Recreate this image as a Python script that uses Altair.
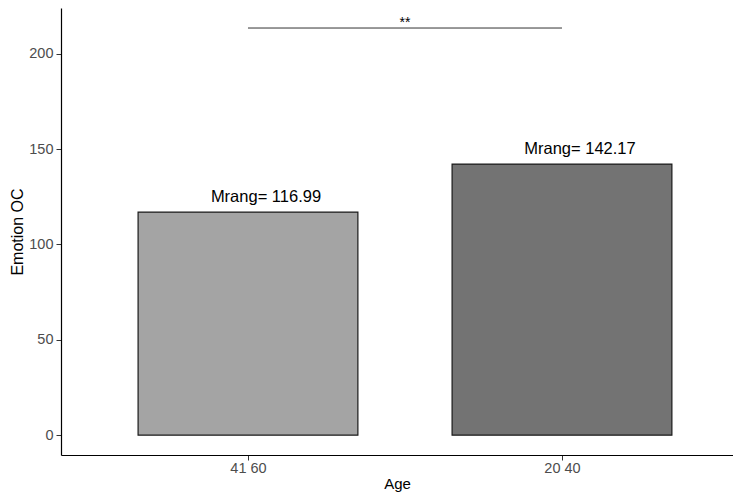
import altair as alt
import pandas as pd

ages = ["41 60", "20 40"]
values = [116.99, 142.17]
labels = ["Mrang= 116.99", "Mrang= 142.17"]
colors = ["#A4A4A4", "#737373"]
sig_level = 213.5
sig_text = "**"

positions = list(range(1, len(ages) + 1))
half = 0.35

df = pd.DataFrame({"pos": positions, "Age": ages, "value": values,
                   "label": labels, "color": colors})
sig = pd.DataFrame({"a": [positions[0]], "b": [positions[1]], "y": [sig_level], "t": [sig_text]})

FONT = "Liberation Sans"
label_expr = "[" + ",".join("'%s'" % a for a in ages) + "][datum.value - 1]"

W = 672
xmin = 0.4045
xscale = alt.Scale(domain=[xmin, xmin + W / 314.0], nice=False, zero=False)
yscale = alt.Scale(domain=[-10.4, 224], nice=False, zero=False)

x_axis = alt.Axis(title="Age", values=positions, labelExpr=label_expr, labelAngle=0,
                  labelFont=FONT, labelFontSize=14.5, labelColor="#4D4D4D", titleFont=FONT,
                  titleFontSize=15, titleFontWeight="normal", titleColor="#000000",
                  tickColor="#333333", domainColor="#000000", domainWidth=1.2, tickSize=5,
                  labelPadding=1, titlePadding=2, grid=False)
y_axis = alt.Axis(title="Emotion OC", values=[0, 50, 100, 150, 200], labelFont=FONT,
                  labelFontSize=14.5, labelColor="#4D4D4D", titleFont=FONT, titleFontSize=16,
                  titleFontWeight="normal", titleColor="#000000", tickColor="#333333",
                  domainColor="#000000", domainWidth=1.2, tickSize=5, labelPadding=3,
                  titlePadding=3, grid=False)

bars = alt.Chart(df).transform_calculate(
    x0="datum.pos - %f" % half, x1="datum.pos + %f" % half
).mark_bar(stroke="#1a1a1a", strokeWidth=1.2).encode(
    x=alt.X("x0:Q", scale=xscale, axis=x_axis),
    x2="x1:Q",
    y=alt.Y("value:Q", scale=yscale, axis=y_axis),
    y2=alt.datum(0),
    color=alt.Color("color:N", scale=None),
)

texts = alt.Chart(df).mark_text(font=FONT, fontSize=16.5, baseline="alphabetic", dy=-10.5,
                                dx=18, color="#000000").encode(
    x=alt.X("pos:Q", scale=xscale),
    y=alt.Y("value:Q", scale=yscale),
    text="label:N",
)

rule = alt.Chart(sig).mark_rule(color="#333333", strokeWidth=1).encode(
    x=alt.X("a:Q", scale=xscale),
    x2="b:Q",
    y=alt.Y("y:Q", scale=yscale),
)

stars = alt.Chart(sig).transform_calculate(
    mid="(datum.a + datum.b) / 2"
).mark_text(font=FONT, fontSize=14, baseline="alphabetic", dy=-1, color="#000000").encode(
    x=alt.X("mid:Q", scale=xscale),
    y=alt.Y("y:Q", scale=yscale),
    text="t:N",
)

chart = alt.layer(bars, texts, rule, stars).properties(
    width=W, height=447,
    autosize=alt.AutoSizeParams(type="none"),
    padding={"left": 53, "top": 0, "right": 0, "bottom": 38},
    background="white",
).configure_view(stroke=None)

chart.save("out.html", embed_options={"renderer": "svg", "actions": False})
